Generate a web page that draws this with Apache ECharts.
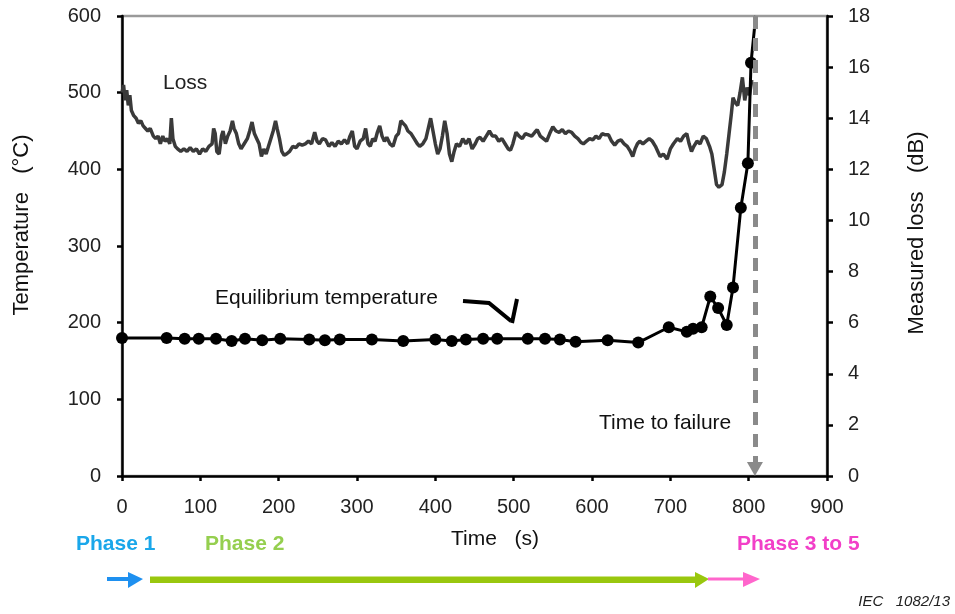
<!DOCTYPE html>
<html>
<head>
<meta charset="utf-8">
<script src="https://cdn.jsdelivr.net/npm/echarts@6/dist/echarts.min.js"></script>
<style>
html,body{margin:0;padding:0;background:#fff;}
#chart{width:955px;height:614px;}
</style>
</head>
<body>
<div id="chart"></div>
<script>
// ---- Data ----
var xTicks = [0,100,200,300,400,500,600,700,800,900];
var tempTicks = [0,100,200,300,400,500,600];
var lossTicks = [0,2,4,6,8,10,12,14,16,18];

// Equilibrium temperature (time s, °C)
var tempTime = [0,57,80,98,120,140,157,179,202,239,259,278,319,359,400,421,439,461,479,518,540,559,579,620,659,698,721,729,740,751,761,772,780,790,799,803,809];
var tempValue = [180,180,179,179,179,176,179,177,179,178,177,178,178,176,178,176,178,179,179,179,179,178,175,177,174,194,188,192,194,234,219,197,246,350,408,539,600];

// Measured loss (time s, dB)
var lossTime = [
0,2,4,6,8,10,12,15,18,21,
24,27,30,33,36,40,43,46,49,52,
55,58,61,63,65,68,71,75,79,83,
87,91,95,99,103,107,111,115,117,119,
121,124,127,129,132,135,138,141,143,146,
149,152,156,160,163,166,169,172,175,178,
181,184,187,190,193,196,198,201,204,207,
210,214,218,222,226,230,234,238,242,246,
249,252,256,260,264,268,272,276,280,284,
288,291,294,297,300,304,308,311,314,317,
320,323,326,329,332,335,338,342,346,350,
353,356,359,362,365,369,373,377,380,384,
388,391,394,397,400,403,406,409,412,415,
418,421,424,427,431,435,439,443,447,451,
454,457,461,465,469,473,477,481,485,489,
493,496,499,503,507,511,515,519,523,527,
530,534,538,542,546,550,554,558,562,566,
570,574,578,582,586,589,593,597,601,605,
609,613,617,621,625,629,633,637,641,645,
649,652,655,658,661,665,669,673,677,681,
684,687,691,696,700,704,709,713,717,721,
724,727,730,734,738,742,746,750,753,756,
759,762,766,769,772,775,778,780,783,786,
789,792,795,798,801,804];
var lossDb = [
15.0,15.3,14.7,15.1,14.5,14.9,14.3,14.1,14.0,13.8,
13.9,13.7,13.6,13.5,13.6,13.3,13.2,13.3,13.0,13.3,
13.1,13.2,13.0,14.0,13.2,12.9,12.8,12.7,12.8,12.7,
12.85,12.7,12.8,12.6,12.8,12.7,12.9,13.0,13.6,13.4,
12.7,12.6,13.3,13.5,13.0,13.3,13.5,13.9,13.6,13.4,
13.0,12.8,13.0,13.2,13.5,13.85,13.4,13.2,13.0,12.5,
12.8,12.6,12.9,13.2,13.5,13.9,13.6,13.2,12.7,12.55,
12.6,12.7,12.9,12.85,13.0,12.95,13.0,13.1,13.0,13.45,
13.1,13.0,13.2,13.15,12.9,13.05,12.9,13.1,13.0,13.15,
13.0,13.3,13.5,12.9,12.8,13.1,13.2,13.6,13.0,12.9,
13.2,13.1,13.45,13.7,13.3,13.1,13.25,13.0,12.9,13.3,
13.4,13.9,13.8,13.7,13.5,13.4,13.2,13.0,12.9,13.0,
13.2,13.6,14.0,13.5,13.0,12.6,12.8,13.3,13.9,13.4,
12.6,12.3,12.7,13.0,12.9,13.2,13.0,13.2,12.8,13.0,
13.2,13.25,13.1,13.3,13.5,13.3,13.3,13.1,13.2,13.0,
12.8,12.75,13.0,13.45,13.3,13.2,13.4,13.35,13.3,13.45,
13.55,13.3,13.2,13.1,13.4,13.67,13.5,13.45,13.55,13.4,
13.5,13.45,13.3,13.2,13.05,13.0,13.1,13.2,13.15,13.3,
13.2,13.4,13.35,13.35,13.1,12.95,13.1,13.15,13.0,12.9,
12.7,12.5,12.8,13.0,13.1,13.0,13.1,13.2,13.1,12.9,
12.7,12.5,12.6,12.4,12.8,13.0,13.2,13.1,13.3,13.4,
13.0,12.7,12.9,13.1,13.0,13.3,13.2,12.9,12.6,12.0,
11.4,11.3,11.4,11.9,12.6,13.4,14.2,14.8,14.6,14.5,
15.0,15.6,14.7,15.2,14.9,15.5];

var failureTime = 808;

// ---- Build ----
var FONT = '"Liberation Sans", Arial, sans-serif';
var tempData = tempTime.map(function(t,i){
  var p = {value:[t, tempValue[i]]};
  if (i === tempTime.length-1) p.symbol = 'none';
  return p;
});
var lossData = lossTime.map(function(t,i){ return [t, lossDb[i]]; });

var chart = echarts.init(document.getElementById('chart'), null, {renderer:'canvas'});
var axisText = {color:'#222', fontSize:20, fontFamily:FONT};

var option = {
  backgroundColor:'#fff',
  animation:false,
  grid:{left:122, right:128, top:16, bottom:138, show:true, borderColor:'#9a9a9a', borderWidth:2.5},
  xAxis:{
    type:'value', min:0, max:900, interval:100,
    axisLine:{show:true, lineStyle:{color:'#000', width:2.5}},
    axisTick:{show:true, length:5, lineStyle:{color:'#000', width:2.5}},
    axisLabel:Object.assign({margin:21}, axisText),
    splitLine:{show:false}
  },
  yAxis:[{
    type:'value', min:0, max:600, interval:100, position:'left',
    axisLine:{show:true, lineStyle:{color:'#000', width:2.5}},
    axisTick:{show:true, length:5, lineStyle:{color:'#000', width:2.5}},
    axisLabel:Object.assign({margin:21}, axisText),
    splitLine:{show:false}
  },{
    type:'value', min:0, max:18, interval:2, position:'right',
    axisLine:{show:true, lineStyle:{color:'#000', width:2.5}},
    axisTick:{show:true, length:6, lineStyle:{color:'#000', width:2.5}},
    axisLabel:Object.assign({margin:21}, axisText),
    splitLine:{show:false}
  }],
  series:[{
    name:'Loss', type:'line', yAxisIndex:1, data:lossData,
    showSymbol:false, symbol:'none',
    lineStyle:{color:'#3a3a3a', width:3.5},
    z:2
  },{
    name:'Equilibrium temperature', type:'line', yAxisIndex:0, data:tempData,
    symbol:'circle', symbolSize:12, showAllSymbol:true,
    itemStyle:{color:'#000'},
    lineStyle:{color:'#000', width:3},
    z:4,
    markLine:{
      silent:true, animation:false,
      symbol:['none','triangle'], symbolSize:[16,14],
      label:{show:false},
      lineStyle:{type:[13,9], color:'#8a8a8a', width:5},
      itemStyle:{color:'#8a8a8a'},
      data:[[{coord:[failureTime,600]},{coord:[failureTime,9]}]]
    }
  }],
  graphic:[
    {type:'text', x:22, y:225, rotation:Math.PI/2, style:{text:'Temperature   (°C)', fill:'#111', font:'22px '+FONT, align:'center', verticalAlign:'middle'}},
    {type:'text', x:917, y:233, rotation:Math.PI/2, style:{text:'Measured loss   (dB)', fill:'#111', font:'22px '+FONT, align:'center', verticalAlign:'middle'}},
    {type:'text', left:163, top:73, style:{text:'Loss', fill:'#222', font:'21px '+FONT}},
    {type:'text', left:215, top:288, style:{text:'Equilibrium temperature', fill:'#111', font:'21px '+FONT}},
    {type:'polyline', shape:{points:[[463,301],[489,303],[511,321]]}, style:{stroke:'#000', lineWidth:4, fill:null}},
    {type:'polyline', shape:{points:[[517,299],[512,323]]}, style:{stroke:'#000', lineWidth:4, fill:null}},
    {type:'text', left:599, top:413, style:{text:'Time to failure', fill:'#111', font:'21px '+FONT}},
    {type:'text', left:451, top:529, style:{text:'Time   (s)', fill:'#111', font:'21px '+FONT}},
    {type:'text', left:76, top:534, style:{text:'Phase 1', fill:'#1aa7ea', font:'bold 21px '+FONT}},
    {type:'text', left:205, top:534, style:{text:'Phase 2', fill:'#95cf4f', font:'bold 21px '+FONT}},
    {type:'text', left:737, top:534, style:{text:'Phase 3 to 5', fill:'#f23fc8', font:'bold 21px '+FONT}},
    {type:'text', right:5, top:594, style:{text:'IEC   1082/13', fill:'#222', font:'italic 15px '+FONT}},
    // blue arrow
    {type:'line', shape:{x1:107,y1:579,x2:131,y2:579}, style:{stroke:'#1e90f0', lineWidth:4}},
    {type:'polygon', shape:{points:[[128,572],[143,579],[128,588]]}, style:{fill:'#1e90f0'}},
    // green arrow
    {type:'rect', shape:{x:150,y:576.5,width:548,height:6.5}, style:{fill:'#99c70e'}},
    {type:'polygon', shape:{points:[[695,572],[709,579],[695,588]]}, style:{fill:'#99c70e'}},
    // pink arrow
    {type:'line', shape:{x1:708,y1:579,x2:746,y2:579}, style:{stroke:'#ff66cc', lineWidth:3}},
    {type:'polygon', shape:{points:[[743,572],[760,579],[743,587]]}, style:{fill:'#ff66cc'}}
  ]
};
chart.setOption(option);
</script>
</body>
</html>
